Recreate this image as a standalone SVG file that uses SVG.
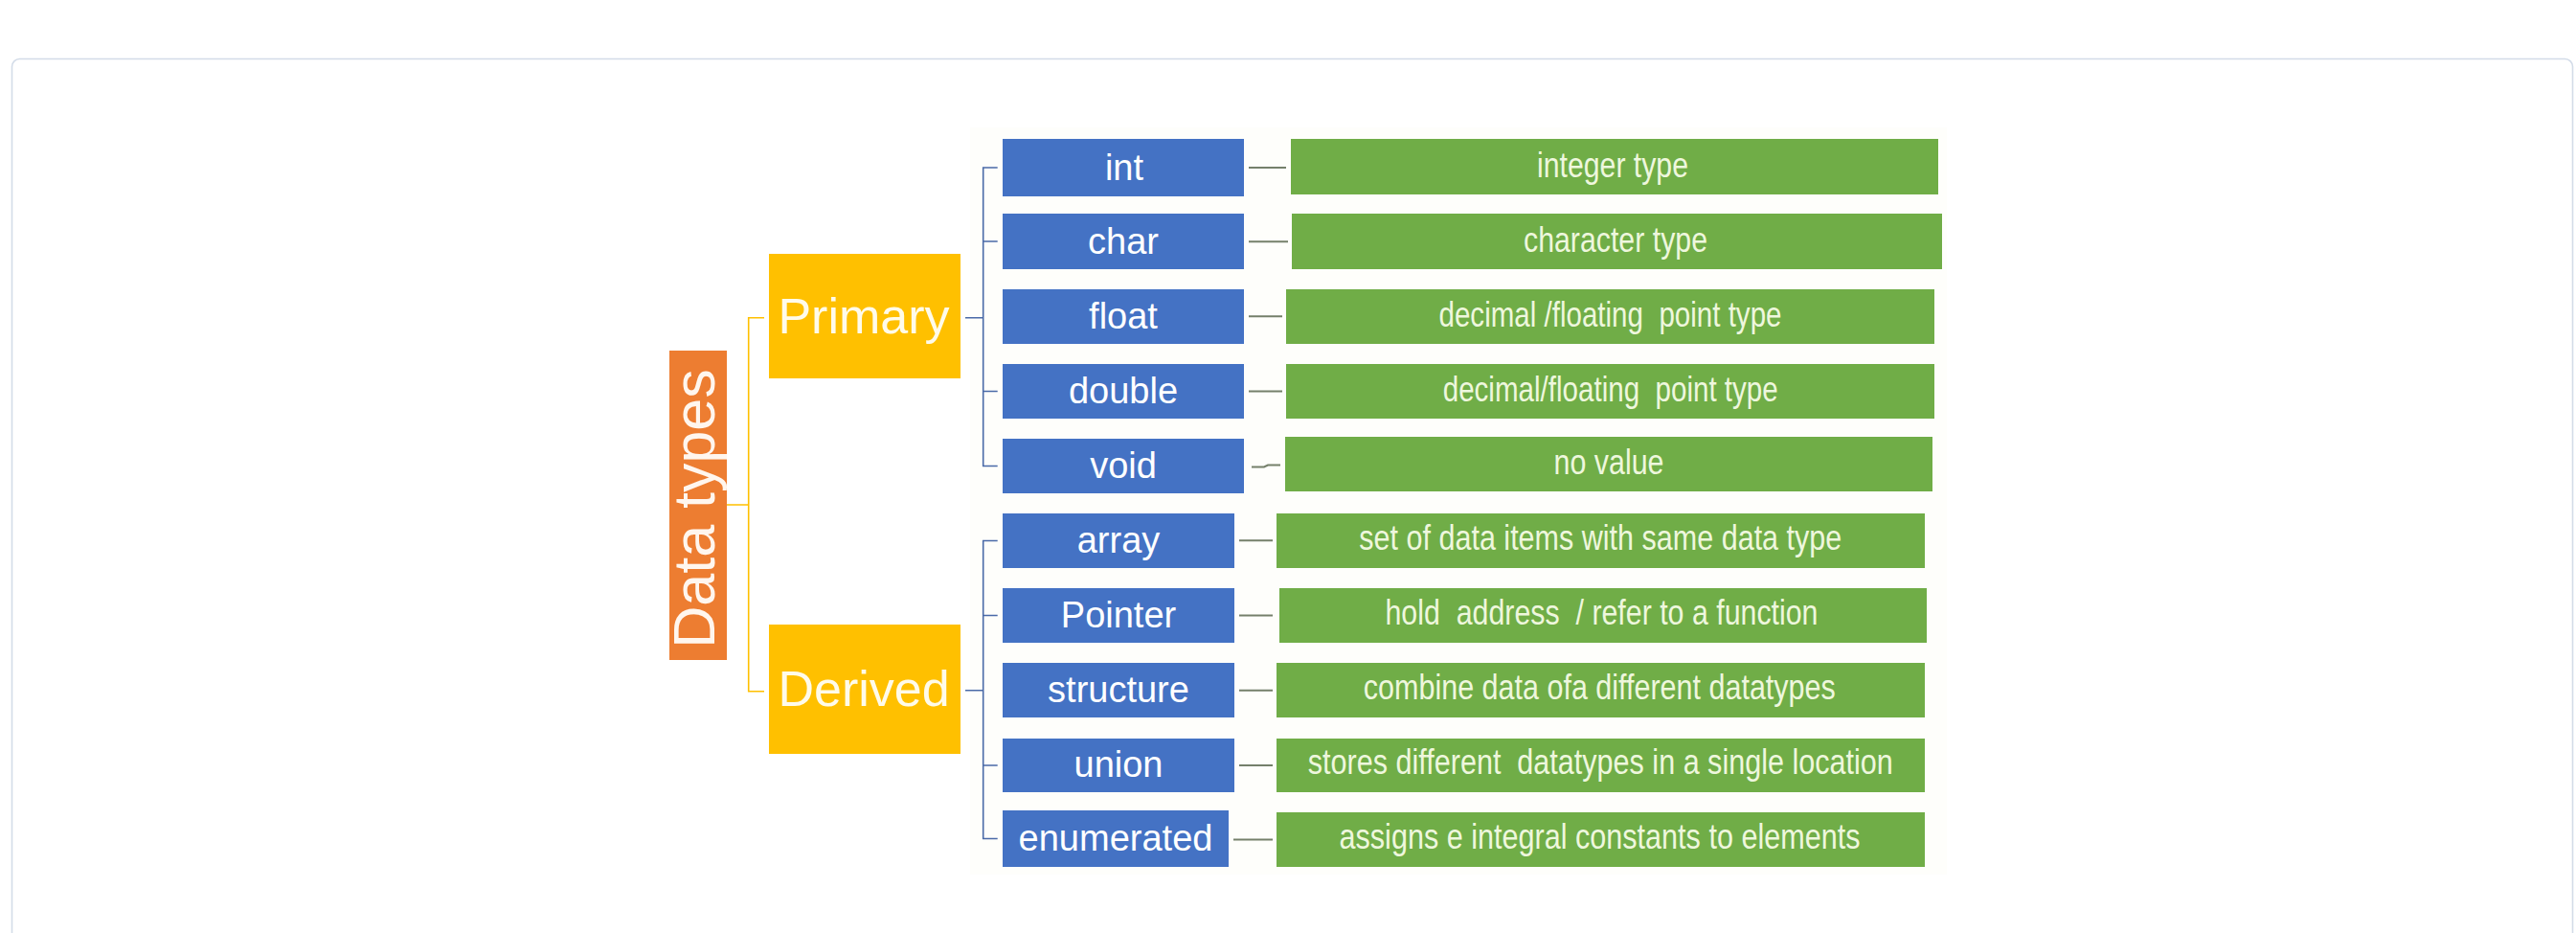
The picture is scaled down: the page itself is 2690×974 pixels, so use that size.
<svg xmlns="http://www.w3.org/2000/svg" width="2690" height="974" viewBox="0 0 2690 974">
<style>
.frame{fill:#ffffff;stroke:#d3dce8;stroke-width:1.6}
.org{fill:#ED7D31}
.yel{fill:#FFC000}
.blu{fill:#4472C4}
.grn{fill:#70AD47}
.tw{font-family:"Liberation Sans",Arial,sans-serif;fill:#ffffff;text-anchor:middle}
.tb{font-size:38px}
.ty{font-size:52px;fill:#fffbea}
.to{font-size:61px;fill:#fff6ee}
.tg{font-family:"Liberation Sans Narrow","Liberation Sans",Arial,sans-serif;font-size:36px;fill:#eef7dd;text-anchor:middle}
.cy{stroke:#FFC000;stroke-width:1.6;fill:none}
.cb{stroke:#4a6aa8;stroke-width:1.6;fill:none}
.cg{stroke:#75806b;stroke-width:2;fill:none}
</style>
<rect class="frame" x="12.5" y="61.5" width="2674" height="980" rx="8"/>
<rect x="1013" y="133" width="1020" height="780" fill="#fefefb"/>
<g id="connectors">
<path class="cy" d="M759 527H781.7M798 331.7H781.7V721.7H798"/>
<path class="cb" d="M1008 331.7H1026.7M1041.7 175H1026.7V486.5H1041.7M1026.7 252H1041.7M1026.7 408.5H1041.7"/>
<path class="cb" d="M1008 720.7H1026.7M1041.7 564.5H1026.7V875.5H1041.7M1026.7 642.5H1041.7M1026.7 799H1041.7"/>
<path class="cg" d="M1304 175H1343M1304 252.3H1345M1304 330.3H1339M1304 408.5H1339M1307 487.5H1320L1324 485.5H1337M1294 564.3H1329M1294 642.5H1329M1294 720.7H1329M1294 799H1329M1288 876.5H1329"/>
</g>
<g id="node-datatypes">
<rect class="org" x="699" y="366" width="60" height="323"/>
<text class="tw to" transform="translate(745.5,531) rotate(-90)" x="0" y="0">Data types</text>
</g>
<g id="node-primary">
<rect class="yel" x="803" y="265" width="200" height="130"/>
<text class="tw ty" x="902" y="348">Primary</text>
</g>
<g id="node-derived">
<rect class="yel" x="803" y="652" width="200" height="135"/>
<text class="tw ty" x="902" y="737">Derived</text>
</g>
<g id="node-int"><rect class="blu" x="1047" y="145" width="252" height="60"/><text class="tw tb" x="1174" y="188">int</text></g>
<g id="node-char"><rect class="blu" x="1047" y="223" width="252" height="58"/><text class="tw tb" x="1173" y="265">char</text></g>
<g id="node-float"><rect class="blu" x="1047" y="302" width="252" height="57"/><text class="tw tb" x="1173" y="343">float</text></g>
<g id="node-double"><rect class="blu" x="1047" y="380" width="252" height="57"/><text class="tw tb" x="1173" y="421">double</text></g>
<g id="node-void"><rect class="blu" x="1047" y="458" width="252" height="57"/><text class="tw tb" x="1173" y="499">void</text></g>
<g id="node-array"><rect class="blu" x="1047" y="536" width="242" height="57"/><text class="tw tb" x="1168" y="577">array</text></g>
<g id="node-pointer"><rect class="blu" x="1047" y="614" width="242" height="57"/><text class="tw tb" x="1168" y="655">Pointer</text></g>
<g id="node-structure"><rect class="blu" x="1047" y="692" width="242" height="57"/><text class="tw tb" x="1168" y="733">structure</text></g>
<g id="node-union"><rect class="blu" x="1047" y="771" width="242" height="56"/><text class="tw tb" x="1168" y="811">union</text></g>
<g id="node-enumerated"><rect class="blu" x="1047" y="846" width="236" height="59"/><text class="tw tb" x="1165" y="888">enumerated</text></g>
<g id="desc-int"><rect class="grn" x="1348" y="145" width="676" height="58"/><text class="tg" x="1684" y="185" textLength="158" lengthAdjust="spacingAndGlyphs">integer type</text></g>
<g id="desc-char"><rect class="grn" x="1349" y="223" width="679" height="58"/><text class="tg" x="1687" y="263" textLength="192" lengthAdjust="spacingAndGlyphs">character type</text></g>
<g id="desc-float"><rect class="grn" x="1343" y="302" width="677" height="57"/><text class="tg" x="1681.5" y="341" xml:space="preserve" textLength="358" lengthAdjust="spacingAndGlyphs">decimal /floating  point type</text></g>
<g id="desc-double"><rect class="grn" x="1343" y="380" width="677" height="57"/><text class="tg" x="1681.7" y="419" xml:space="preserve" textLength="350" lengthAdjust="spacingAndGlyphs">decimal/floating  point type</text></g>
<g id="desc-void"><rect class="grn" x="1342" y="456" width="676" height="57"/><text class="tg" x="1680" y="495" textLength="115" lengthAdjust="spacingAndGlyphs">no value</text></g>
<g id="desc-array"><rect class="grn" x="1333" y="536" width="677" height="57"/><text class="tg" x="1671.3" y="574" textLength="504" lengthAdjust="spacingAndGlyphs">set of data items with same data type</text></g>
<g id="desc-pointer"><rect class="grn" x="1336" y="614" width="676" height="57"/><text class="tg" x="1672.5" y="652" xml:space="preserve" textLength="452" lengthAdjust="spacingAndGlyphs">hold  address  / refer to a function</text></g>
<g id="desc-structure"><rect class="grn" x="1333" y="692" width="677" height="57"/><text class="tg" x="1670.3" y="730" textLength="493" lengthAdjust="spacingAndGlyphs">combine data ofa different datatypes</text></g>
<g id="desc-union"><rect class="grn" x="1333" y="771" width="677" height="56"/><text class="tg" x="1671.3" y="808" xml:space="preserve" textLength="611" lengthAdjust="spacingAndGlyphs">stores different  datatypes in a single location</text></g>
<g id="desc-enumerated"><rect class="grn" x="1333" y="848" width="677" height="57"/><text class="tg" x="1670.5" y="886" textLength="544" lengthAdjust="spacingAndGlyphs">assigns e integral constants to elements</text></g>
</svg>
